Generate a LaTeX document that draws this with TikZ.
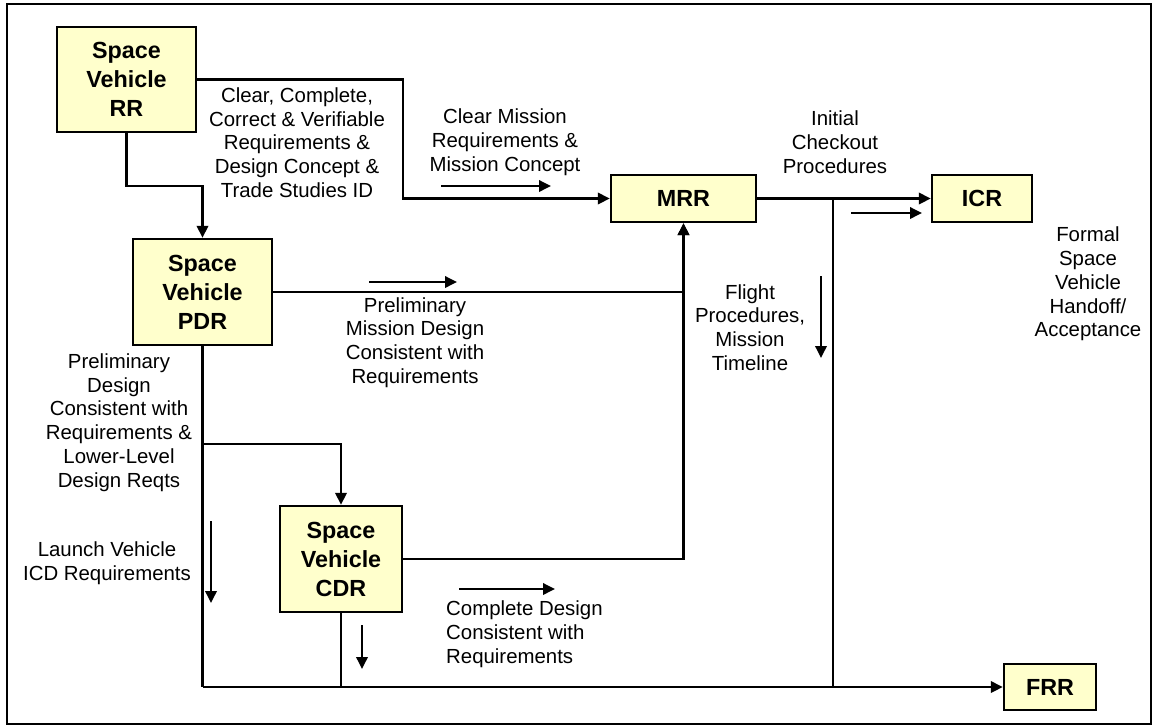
\documentclass[tikz,border=0pt]{standalone}
\usepackage{fontspec}
\setmainfont{Liberation Sans}
\usetikzlibrary{arrows.meta}
\definecolor{boxfill}{HTML}{FFFFCC}
\begin{document}
\begin{tikzpicture}[x=0.75pt,y=-0.75pt,
  line width=1.8pt,
  rev/.style={draw=black,fill=boxfill,line width=1.8pt,inner sep=0pt,align=center,
    font=\bfseries\fontsize{17.5}{21.75}\selectfont},
  lbl/.style={inner sep=0pt,align=center,font=\fontsize{15.3}{17.8}\selectfont},
  conn/.style={draw,line width=1.8pt},
  arr/.style={conn,-{Triangle[length=9pt,width=8.5pt]}},
  sarr/.style={draw,line width=1.8pt,-{Triangle[length=9pt,width=8.5pt]}}]
\useasboundingbox (0,0) rectangle (1153,726);
\draw[line width=1.8pt] (7,4) rectangle (1151,724);

% review boxes
\node[rev,minimum width=104.25pt,minimum height=78.75pt] (RR) at (126.5,79.5) {Space\\Vehicle\\RR};
\node[rev,minimum width=104.25pt,minimum height=79.5pt] (PDR) at (202.5,292) {Space\\Vehicle\\PDR};
\node[rev,minimum width=91.5pt,minimum height=79.5pt] (CDR) at (341,559) {Space\\Vehicle\\CDR};
\node[rev,minimum width=108.75pt,minimum height=35.25pt] (MRR) at (683.5,198.5) {MRR};
\node[rev,minimum width=75pt,minimum height=35.25pt] (ICR) at (982,198.5) {ICR};
\node[rev,minimum width=69pt,minimum height=34.5pt] (FRR) at (1050,687) {FRR};

% junction coordinates
\coordinate (c1) at (403,198.5);
\coordinate (c2) at (202.5,186);
\coordinate (c3) at (202.5,444);
\coordinate (c4) at (202.5,687);
\coordinate (c5) at (341,687);
\coordinate (c6) at (833,198.5);
\coordinate (c7) at (833,687);

% connectors
\draw[arr] (RR.east) -| (c1) -- (MRR.west);
\draw[arr] (RR.south) |- (c2) -- (PDR.north);
\draw[arr] (PDR.east) -| (MRR.south);
\draw[arr] (CDR.east) -| (MRR.south);
\draw[conn] (PDR.south) -- (c4);
\draw[arr] (c3) -| (CDR.north);
\draw[conn] (CDR.south) -- (c5);
\draw[arr] (c4) -- (FRR.west);
\draw[arr] (MRR.east) -- (ICR.west);
\draw[conn] (c6) -- (c7);

% small direction arrows
\coordinate (a1s) at (441,186);  \coordinate (a1e) at (551,186);
\coordinate (a2s) at (369,282);  \coordinate (a2e) at (457,282);
\coordinate (a3s) at (851,213);  \coordinate (a3e) at (922,213);
\coordinate (a4s) at (821,276);  \coordinate (a4e) at (821,358);
\coordinate (a5s) at (211,521);  \coordinate (a5e) at (211,603);
\coordinate (a6s) at (362,625);  \coordinate (a6e) at (362,669);
\coordinate (a7s) at (459,589);  \coordinate (a7e) at (555,589);
\draw[sarr] (a1s) -- (a1e);
\draw[sarr] (a2s) -- (a2e);
\draw[sarr] (a3s) -- (a3e);
\draw[sarr] (a4s) -- (a4e);
\draw[sarr] (a5s) -- (a5e);
\draw[sarr] (a6s) -- (a6e);
\draw[sarr] (a7s) -- (a7e);

% labels
\node[lbl] (l1) at (297,142.5) {Clear, Complete,\\Correct \& Verifiable\\Requirements \&\\Design Concept \&\\Trade Studies ID};
\node[lbl] (l2) at (505,142) {Clear Mission\\Requirements \&\\Mission Concept};
\node[lbl] (l3) at (835,142) {Initial\\Checkout\\Procedures};
\node[lbl] (l4) at (1088,284) {Formal\\Space\\Vehicle\\Handoff/\\Acceptance};
\node[lbl] (l5) at (750,327.5) {Flight\\Procedures,\\Mission\\Timeline};
\node[lbl] (l6) at (415,342.5) {Preliminary\\Mission Design\\Consistent with\\Requirements};
\node[lbl] (l7) at (119,422.5) {Preliminary\\Design\\Consistent with\\Requirements \&\\Lower-Level\\Design Reqts};
\node[lbl] (l8) at (107,563.5) {Launch Vehicle\\ICD Requirements};
\node[lbl,align=left,anchor=west] (l9) at (445,634) {Complete Design\\Consistent with\\Requirements};
\end{tikzpicture}
\end{document}
